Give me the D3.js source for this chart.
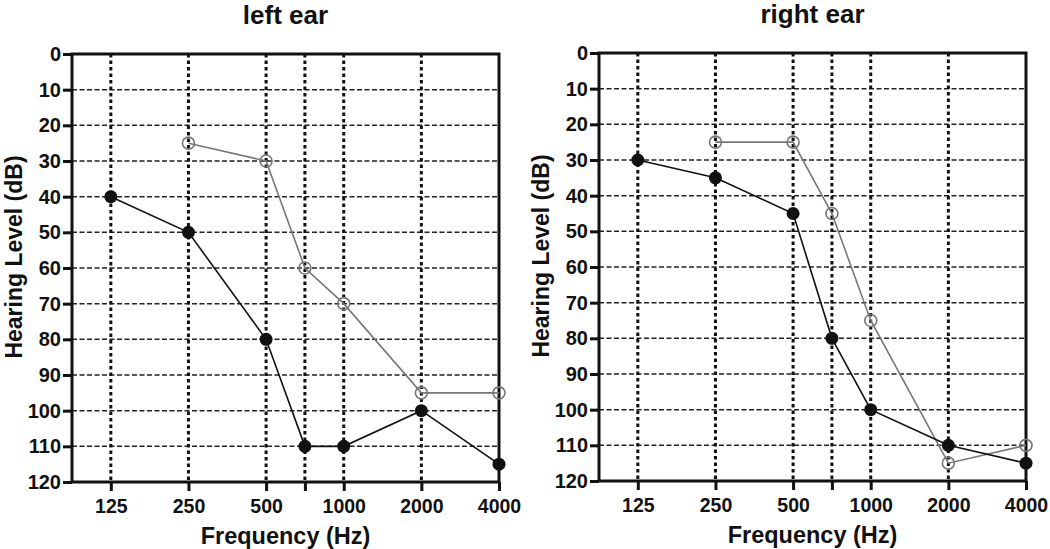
<!DOCTYPE html>
<html>
<head>
<meta charset="utf-8">
<script src="https://cdn.jsdelivr.net/npm/d3@7"></script>
<style>
  body { margin: 0; background: #fff; }
  svg text { font-family: "Liberation Sans", Arial, sans-serif; font-weight: bold; fill: #111; }
</style>
</head>
<body>
<div></div>
<script>
// audiogram columns (Hz) and their octave position on the chart
let freqs = [125, 250, 500, 750, 1000, 2000, 4000]
let octave = [0, 1, 2, 2.5, 3, 4, 5]
let freqLabels = ["125", "250", "500", "", "1000", "2000", "4000"]
let dbTicks = [0, 10, 20, 30, 40, 50, 60, 70, 80, 90, 100, 110, 120]

let leftFilled = [40, 50, 80, 110, 110, 100, 115]
let leftOpen = [null, 25, 30, 60, 70, 95, 95]
let rightFilled = [30, 35, 45, 80, 100, 110, 115]
let rightOpen = [null, 25, 25, 45, 75, 115, 110]

let w = 1050, h = 549
let svg = d3.select("div").append("svg").attr("width", w).attr("height", h)

function panel(x0, y0, title, filled, open) {
    let pw = 427, ph = 428
    let g = svg.append("g").attr("transform", "translate(" + x0 + "," + y0 + ")")

    let xScale = d3.scaleLinear().domain([-0.5, 5]).range([0, pw])
    let yScale = d3.scaleLinear().domain([0, 120]).range([0, ph])

    // horizontal grid
    g.selectAll(".hgrid").data(dbTicks.slice(1, -1)).enter().append("line")
        .attr("x1", 0).attr("x2", pw)
        .attr("y1", d => yScale(d)).attr("y2", d => yScale(d))
        .attr("stroke", "#222").attr("stroke-width", 1.5).attr("stroke-dasharray", "5,2.5")

    // vertical grid
    g.selectAll(".vgrid").data(octave.slice(0, -1)).enter().append("line")
        .attr("y1", 0).attr("y2", ph)
        .attr("x1", d => xScale(d)).attr("x2", d => xScale(d))
        .attr("stroke", "#111").attr("stroke-width", 3).attr("stroke-dasharray", "3.5,3")

    let yAxis = d3.axisLeft(yScale).tickValues(dbTicks).tickSize(9).tickPadding(2)
    let ya = g.append("g").call(yAxis)
    ya.selectAll("text").style("font-size", "20px")

    let xAxis = d3.axisBottom(xScale).tickValues(octave).tickSize(9).tickPadding(8)
        .tickFormat((d, i) => freqLabels[i])
    let xa = g.append("g").attr("transform", "translate(0," + ph + ")").call(xAxis)
    xa.selectAll("text").style("font-size", "19.5px")

    svg.selectAll(".domain").remove()
    g.selectAll(".tick line").attr("stroke", "#111").attr("stroke-width", 3)

    // frame
    g.append("rect").attr("x", 0).attr("y", 0).attr("width", pw).attr("height", ph)
        .attr("fill", "none").attr("stroke", "#111").attr("stroke-width", 3)

    let line = d3.line()
        .defined(d => d[1] != null)
        .x(d => xScale(d[0])).y(d => yScale(d[1]))

    let openPts = octave.map((o, i) => [o, open[i]])
    let filledPts = octave.map((o, i) => [o, filled[i]])

    g.append("path").datum(openPts).attr("d", line)
        .attr("fill", "none").attr("stroke", "#777").attr("stroke-width", 1.6)
    g.selectAll(".open").data(openPts.filter(d => d[1] != null)).enter().append("circle")
        .attr("cx", d => xScale(d[0])).attr("cy", d => yScale(d[1])).attr("r", 6)
        .attr("fill", "none").attr("stroke", "#777").attr("stroke-width", 1.6)

    g.append("path").datum(filledPts).attr("d", line)
        .attr("fill", "none").attr("stroke", "#111").attr("stroke-width", 1.6)
    g.selectAll(".filled").data(filledPts).enter().append("circle")
        .attr("cx", d => xScale(d[0])).attr("cy", d => yScale(d[1])).attr("r", 6.5)
        .attr("fill", "#111")

    g.append("text").attr("x", pw / 2).attr("y", -30).attr("text-anchor", "middle")
        .style("font-size", "26px").text(title)

    g.append("text").attr("x", pw / 2).attr("y", ph + 62).attr("text-anchor", "middle")
        .style("font-size", "23.5px").text("Frequency (Hz)")

    g.append("text").attr("transform", "translate(" + (-50) + "," + (ph / 2 - 11) + ") rotate(-90)")
        .attr("text-anchor", "middle").style("font-size", "23px").text("Hearing Level (dB)")
}

panel(72, 54, "left ear", leftFilled, leftOpen)
panel(599, 53, "right ear", rightFilled, rightOpen)
</script>
</body>
</html>
